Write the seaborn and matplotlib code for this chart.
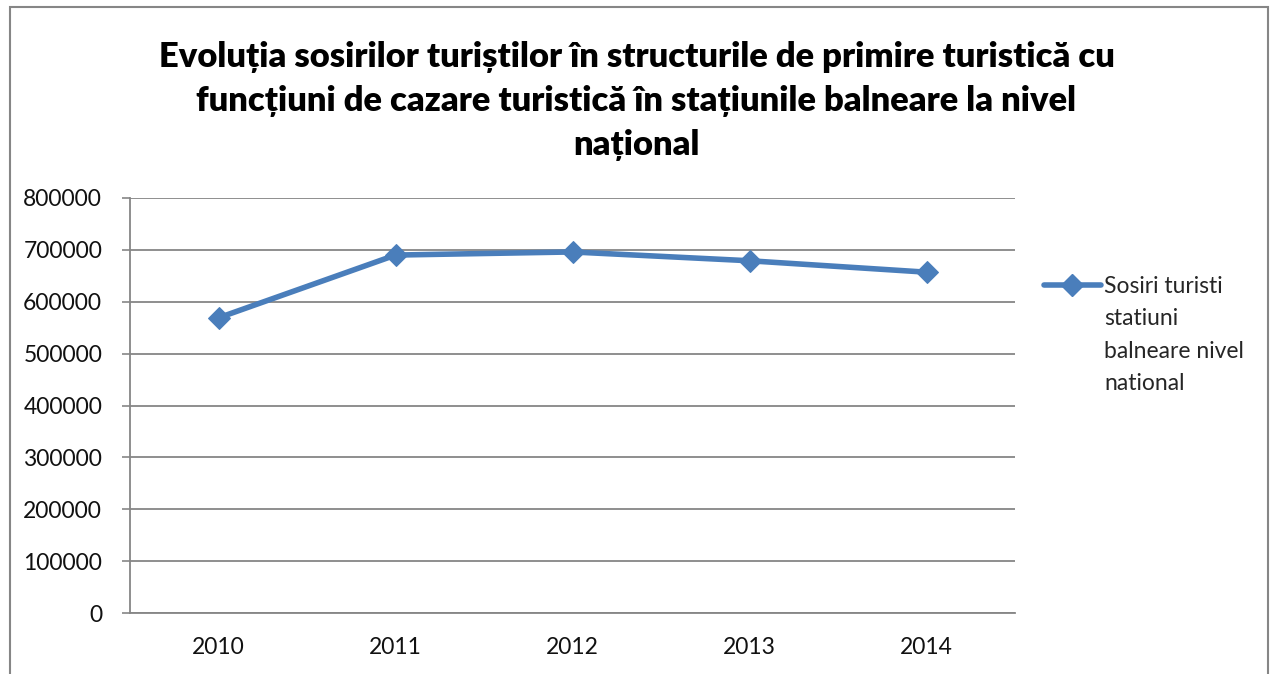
import matplotlib
matplotlib.use("Agg")
import matplotlib.pyplot as plt
import seaborn as sns
import pandas as pd
from matplotlib.patches import Rectangle
from matplotlib.lines import Line2D

# date
ani = ["2010", "2011", "2012", "2013", "2014"]
sosiri = [569000, 690000, 696000, 679000, 657000]
serie = ["Sosiri turisti", "statiuni", "balneare nivel", "national"]
titlu = ("Evoluția sosirilor turiștilor în structurile de primire turistică cu\n"
         "funcțiuni de cazare turistică în stațiunile balneare la nivel\n"
         "național")
y_ticks = [0, 100000, 200000, 300000, 400000, 500000, 600000, 700000, 800000]

df = pd.DataFrame({"an": ani, "sosiri": sosiri})
df["poz"] = range(len(ani))

sns.set_style("white")
plt.rcParams["font.family"] = ["Lato", "DejaVu Sans"]

W, H = 1273, 674
fig = plt.figure(figsize=(W / 100, H / 100), dpi=100)
ax = fig.add_axes([130 / W, 61 / H, 885 / W, 415 / H])

gri = "#868686"
albastru = "#4A7EBB"

sns.lineplot(data=df, x="poz", y="sosiri", ax=ax, color=albastru, linewidth=4,
             marker="D", markersize=11, markeredgecolor=albastru, legend=False)

ax.set_xlim(-0.5, len(ani) - 0.5)
ax.set_ylim(0, 800000)
ax.set_yticks(y_ticks)
ax.set_yticklabels([str(v) for v in y_ticks], fontsize=16.5, color="#111111")
ax.set_xticks(range(len(ani)))
ax.set_xticklabels(ani, fontsize=16.5, color="#111111")
ax.set_xticks([i - 0.5 for i in range(len(ani) + 1)], minor=True)
ax.tick_params(axis="x", which="major", length=0, pad=17)
ax.tick_params(axis="x", which="minor", length=6, width=1.2, color=gri, direction="out")
ax.tick_params(axis="y", length=6, width=1.2, color=gri, direction="out", pad=14, left=True)
ax.set_xlabel("")
ax.set_ylabel("")

ax.grid(axis="y", color=gri, linewidth=1.3)
ax.grid(axis="x", visible=False)
ax.set_axisbelow(True)
for s in ["top", "right"]:
    ax.spines[s].set_visible(False)
for s in ["left", "bottom"]:
    ax.spines[s].set_color(gri)
    ax.spines[s].set_linewidth(1.3)

# legenda: marcaj doar pe primul rand, textul continua dedesubt
h = Line2D([], [], color=albastru, linewidth=4, marker="D", markersize=11)
gol = Line2D([], [], linestyle="none")
ax.legend(handles=[h, gol, gol, gol], labels=serie, loc="upper left",
          bbox_to_anchor=(1.022, 0.835), frameon=False, fontsize=16.5,
          handlelength=2.5, handletextpad=0.15, labelspacing=0.5,
          borderaxespad=0)

fig.text(0.5, 1 - 41 / H, titlu, ha="center", va="top", fontsize=24.8,
         fontweight="heavy", linespacing=1.47, color="#000000")

fig.patches.append(Rectangle((10 / W, -0.1), 1258 / W, 1.1 - 7 / H, transform=fig.transFigure,
                             fill=False, edgecolor=gri, linewidth=1.5, figure=fig))

fig.savefig("out.png", dpi=100, facecolor="white")
